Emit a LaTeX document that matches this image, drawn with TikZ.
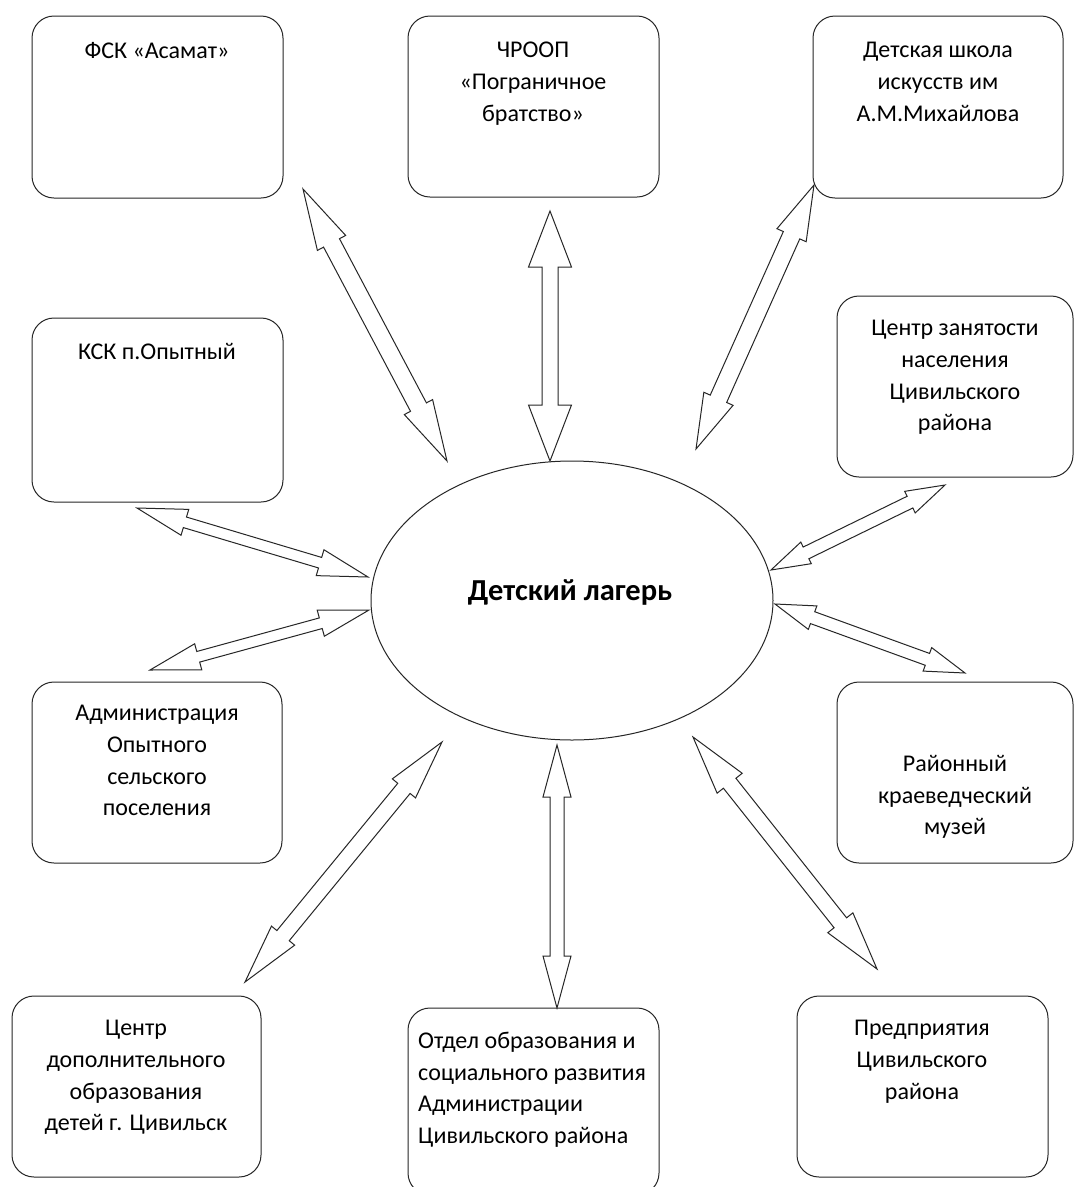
\documentclass[tikz,border=0pt]{standalone}
\usepackage{fontspec}
\setmainfont{Carlito}
\usetikzlibrary{calc,shapes.geometric}
\tikzset{
  box/.style={draw=black!85, line width=1pt, rounded corners=22pt, fill=white, inner sep=0pt},
  txt/.style={inner sep=0pt, align=center, anchor=north, font=\fontsize{24}{31.7}\selectfont},
  blockarrow/.style={draw=black!85, line width=1pt, fill=white, line join=miter},
  campus/.style={draw=black!85, line width=1pt, ellipse, inner sep=0pt, minimum width=402pt, minimum height=279pt}
}
\newcommand\dblarrow[6]{%
  \coordinate (#1-h1) at ($(#2)!#4pt!(#3)$);
  \coordinate (#1-h2) at ($(#3)!#4pt!(#2)$);
  \draw[blockarrow] (#2)
    -- ($(#1-h1)!#5pt!90:(#3)$) -- ($(#1-h1)!#6pt!90:(#3)$)
    -- ($(#1-h2)!#6pt!-90:(#2)$) -- ($(#1-h2)!#5pt!-90:(#2)$)
    -- (#3)
    -- ($(#1-h2)!#5pt!90:(#2)$) -- ($(#1-h2)!#6pt!90:(#2)$)
    -- ($(#1-h1)!#6pt!-90:(#3)$) -- ($(#1-h1)!#5pt!-90:(#3)$)
    -- cycle;
}
\begin{document}
\begin{tikzpicture}[x=1pt,y=-1pt]
\clip (0,0) rectangle (1075,1187);
\fill[white] (0,0) rectangle (1075,1187);

% boxes
\node[box, minimum width=251pt, minimum height=182pt] (b1) at (157.5,107) {};
\node[box, minimum width=251pt, minimum height=181pt] (b2) at (533.5,106.5) {};
\node[box, minimum width=250pt, minimum height=182pt] (b3) at (938,107) {};
\node[box, minimum width=251pt, minimum height=184pt] (b4) at (157.5,410) {};
\node[box, minimum width=236pt, minimum height=181pt] (b5) at (955,386.5) {};
\node[box, minimum width=250pt, minimum height=181pt] (b6) at (157,772.5) {};
\node[box, minimum width=236pt, minimum height=181pt] (b7) at (955,772.5) {};
\node[box, minimum width=249pt, minimum height=181pt] (b8) at (136.5,1086.5) {};
\node[box, minimum width=251pt, minimum height=187pt] (b9) at (533.5,1101.5) {};
\node[box, minimum width=251pt, minimum height=181pt] (b10) at (922.5,1086.5) {};

% texts
\node[txt] (t1) at (157,42) {ФСК «Асамат»};
\node[txt] (t2) at (533,42) {ЧРООП\\«Пограничное\\братство»};
\node[txt] (t3) at (938,42) {Детская школа\\искусств им\\А.М.Михайлова};
\node[txt] (t4) at (157,343) {КСК п.Опытный};
\node[txt] (t5) at (955,320) {Центр занятости\\населения\\Цивильского\\района};
\node[txt] (t6) at (157,705) {Администрация\\Опытного\\сельского\\поселения};
\node[txt] (t7) at (955,755) {Районный\\краеведческий\\музей};
\node[txt] (t8) at (136,1020) {Центр\\дополнительного\\образования\\детей г. Цивильск};
\node[txt, align=left, anchor=north west] (t9) at (418,1032) {Отдел образования и\\социального развития\\Администрации\\Цивильского района};
\node[txt] (t10) at (922,1020) {Предприятия\\Цивильского\\района};

% centre
\node[campus] (c) at (572,600.5) {};
\node[font=\fontsize{30.5}{34}\selectfont\bfseries, inner sep=0pt] (ct) at (570,592) {Детский лагерь};

% arrow tips
\coordinate (a1) at (303,189);  \coordinate (a2) at (447,461);
\coordinate (bb1) at (550,211); \coordinate (bb2) at (550,461);
\coordinate (c1) at (814,185);  \coordinate (c2) at (696,449);
\coordinate (d1) at (945,485);  \coordinate (d2) at (771,570);
\coordinate (e1) at (775,604);  \coordinate (e2) at (965,673);
\coordinate (f1) at (693,737);  \coordinate (f2) at (877,969);
\coordinate (g1) at (557,745);  \coordinate (g2) at (557,1008);
\coordinate (h1) at (442,742);  \coordinate (h2) at (245,982);
\coordinate (i1) at (137,508);  \coordinate (i2) at (368,577);
\coordinate (j1) at (369,610);  \coordinate (j2) at (150,670);

\dblarrow{A}{a1}{a2}{61}{16}{9}
\dblarrow{B}{bb1}{bb2}{56}{21.5}{8}
\dblarrow{C}{c1}{c2}{55}{16}{9}
\dblarrow{D}{d1}{d2}{39}{12}{6.5}
\dblarrow{E}{e1}{e2}{40}{12.5}{6.3}
\dblarrow{F}{f1}{f2}{59}{16}{8}
\dblarrow{G}{g1}{g2}{52}{14}{7}
\dblarrow{H}{h1}{h2}{60}{15}{8}
\dblarrow{I}{i1}{i2}{50}{13.5}{5.5}
\dblarrow{J}{j1}{j2}{50}{13.5}{5.5}
\end{tikzpicture}
\end{document}
